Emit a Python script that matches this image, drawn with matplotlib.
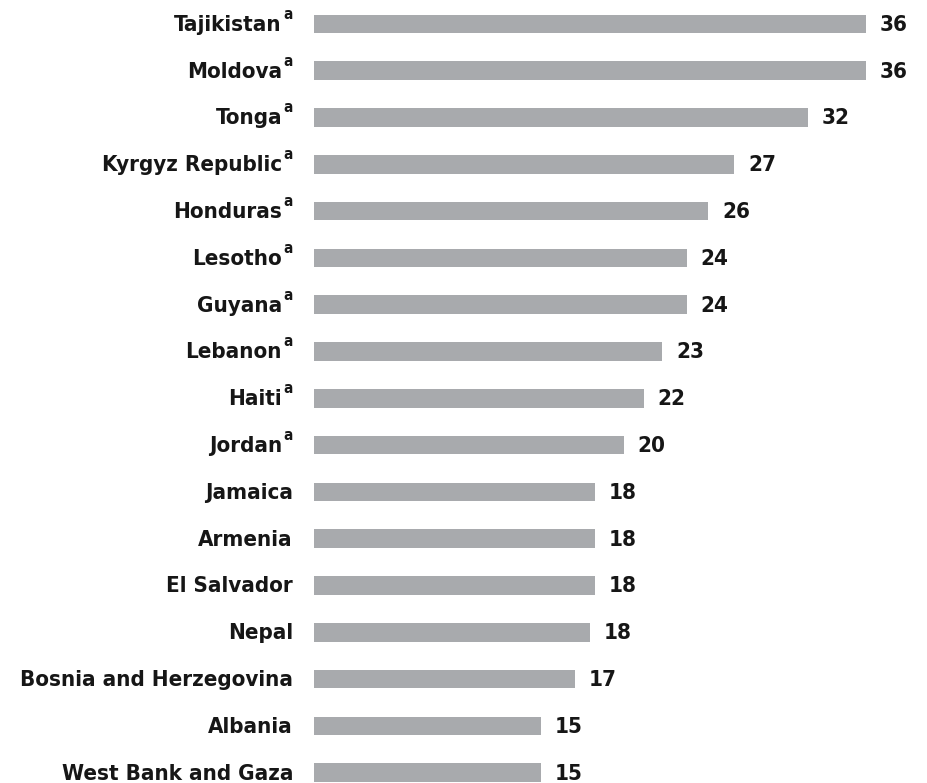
import matplotlib.pyplot as plt

countries = ['Tajikistan', 'Moldova', 'Tonga', 'Kyrgyz Republic', 'Honduras',
             'Lesotho', 'Guyana', 'Lebanon', 'Haiti', 'Jordan', 'Jamaica',
             'Armenia', 'El Salvador', 'Nepal', 'Bosnia and Herzegovina',
             'Albania', 'West Bank and Gaza']
footnote = [True, True, True, True, True, True, True, True, True, True,
            False, False, False, False, False, False, False]
# bar lengths, printed labels are rounded
bar_values = [36.0, 36.0, 32.2, 27.4, 25.7, 24.3, 24.3, 22.7, 21.5, 20.2,
              18.3, 18.3, 18.3, 18.0, 17.0, 14.8, 14.8]
value_labels = [36, 36, 32, 27, 26, 24, 24, 23, 22, 20,
                18, 18, 18, 18, 17, 15, 15]

fig = plt.figure(figsize=(9.27, 7.83), dpi=100)
ax = fig.add_axes([314 / 927, 0, 552 / 927, 1])

y = list(range(len(countries)))
ax.barh(y, bar_values, height=0.4, color='#a8aaad')
ax.set_xlim(0, 36)
ax.set_ylim(16.22, -0.51)
ax.set_xticks([])
ax.set_yticks([])

txt = dict(fontsize=16, fontweight='bold', fontstretch='condensed',
           color='#161616', family='DejaVu Sans')
for yi, name, f in zip(y, countries, footnote):
    shift = -32 if f else -21
    ax.annotate(name, (0, yi), xytext=(shift, -7), textcoords='offset pixels',
                va='baseline', ha='right', annotation_clip=False, **txt)
    if f:
        ax.annotate('a', (0, yi), xytext=(-21, 5), textcoords='offset pixels',
                    va='baseline', ha='right', annotation_clip=False,
                    **dict(txt, fontsize=11))

for yi, v, lab in zip(y, bar_values, value_labels):
    ax.annotate(str(lab), (v, yi), xytext=(14, -7), textcoords='offset pixels',
                va='baseline', ha='left', annotation_clip=False, **txt)

for s in ax.spines.values():
    s.set_visible(False)

fig.savefig('out.png', dpi=100)
